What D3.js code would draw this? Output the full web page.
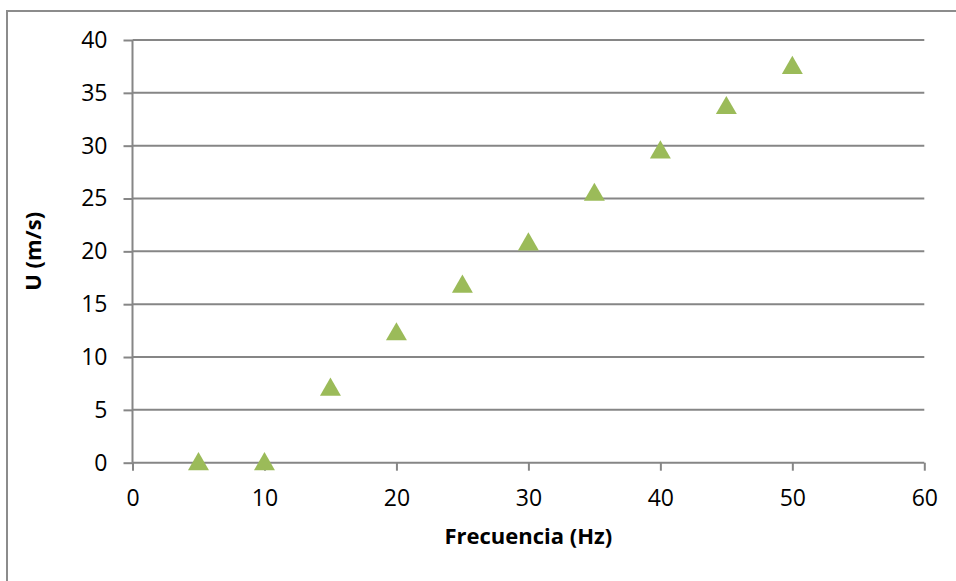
<!DOCTYPE html>
<html>
<head>
<meta charset="utf-8">
<script src="https://cdn.jsdelivr.net/npm/d3@7"></script>
<style>
  html, body { margin: 0; padding: 0; background: #fff; }
  svg { display: block; }
  text { font-family: "Open Sans", "Liberation Sans", sans-serif; fill: #000; }
</style>
</head>
<body>
<script>
// Data
const frecuencia = [5, 10, 15, 20, 25, 30, 35, 40, 45, 50];
const velocidad = [0, 0, 7.05, 12.3, 16.8, 20.8, 25.5, 29.5, 33.7, 37.5];
const xTicks = [0, 10, 20, 30, 40, 50, 60];
const yTicks = [0, 5, 10, 15, 20, 25, 30, 35, 40];
const xTitle = "Frecuencia (Hz)";
const yTitle = "U (m/s)";

const W = 956, H = 581;
const svg = d3.select("body").append("svg").attr("width", W).attr("height", H);

// Outer chart border (extends past right and bottom edges)
svg.append("rect")
  .attr("x", 7).attr("y", 11)
  .attr("width", W + 20).attr("height", H + 20)
  .attr("fill", "none").attr("stroke", "#8c8c8c").attr("stroke-width", 2);

const x = d3.scaleLinear().domain([0, 60]).range([132.5, 924.3]);
const y = d3.scaleLinear().domain([0, 40]).range([462.7, 40]);

const gridColor = "#868686";

// Horizontal gridlines
svg.append("g").selectAll("line").data(yTicks.filter(d => d !== 0)).join("line")
  .attr("x1", x(0)).attr("x2", x(60))
  .attr("y1", d => y(d)).attr("y2", d => y(d))
  .attr("stroke", gridColor).attr("stroke-width", 2);

// Y axis
const yAxis = svg.append("g").attr("transform", `translate(${x(0)},0)`)
  .call(d3.axisLeft(y).tickValues(yTicks).tickSize(9).tickPadding(16).tickFormat(d3.format("d")));
yAxis.select(".domain").attr("stroke", gridColor).attr("stroke-width", 2)
  .attr("d", `M0,${y(40)}V${y(0)}`);
yAxis.selectAll(".tick line").attr("stroke", gridColor).attr("stroke-width", 2);
yAxis.selectAll(".tick text").attr("font-size", 23).attr("font-family", "'Open Sans', sans-serif").attr("fill", "#000");

// X axis
const xAxis = svg.append("g").attr("transform", `translate(0,${y(0)})`)
  .call(d3.axisBottom(x).tickValues(xTicks).tickSize(8).tickPadding(19).tickFormat(d3.format("d")));
xAxis.select(".domain").attr("stroke", gridColor).attr("stroke-width", 2)
  .attr("d", `M${x(0)},0H${x(60)}`);
xAxis.selectAll(".tick line").attr("stroke", gridColor).attr("stroke-width", 2);
xAxis.selectAll(".tick text").attr("font-size", 23).attr("font-family", "'Open Sans', sans-serif").attr("fill", "#000");

// Axis titles
svg.append("text")
  .attr("x", (x(0) + x(60)) / 2).attr("y", 544)
  .attr("text-anchor", "middle")
  .attr("font-size", 22).attr("font-weight", "bold")
  .text(xTitle);

svg.append("text")
  .attr("transform", `translate(41,${y(20)}) rotate(-90)`)
  .attr("text-anchor", "middle")
  .attr("font-size", 22).attr("font-weight", "bold")
  .text(yTitle);

// Markers (triangles)
const tri = d3.symbol().type(d3.symbolTriangle).size(190);
svg.append("g").selectAll("path").data(frecuencia.map((f, i) => [f, velocidad[i]])).join("path")
  .attr("d", tri)
  .attr("transform", d => `translate(${x(d[0])},${y(d[1]) + 1.5})`)
  .attr("fill", "#9bbb59");
</script>
</body>
</html>
